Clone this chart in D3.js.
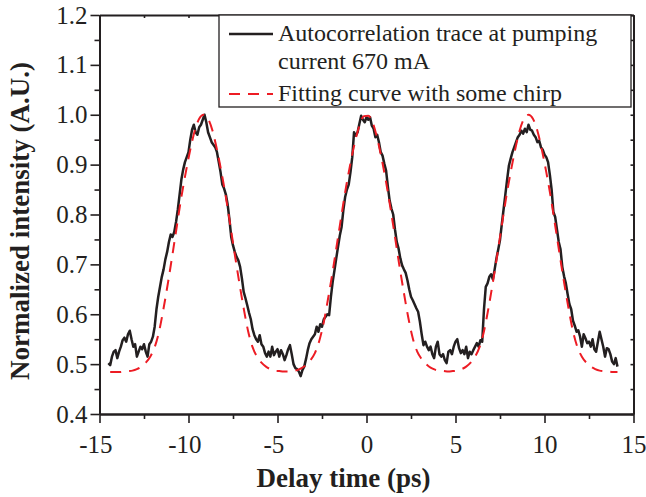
<!DOCTYPE html>
<html><head><meta charset="utf-8">
<script src="https://cdn.jsdelivr.net/npm/d3@7/dist/d3.min.js"></script>
<style>body{margin:0;background:#fff}svg{display:block}</style>
</head><body><svg id="c" width="646" height="497"></svg>
<script>
// ---- data ----
const traceStart = -14.5, traceStep = 0.1;   // ps
const traceValues = [
0.502,0.498,0.515,0.525,0.528,0.512,0.525,0.535,0.548,0.553,
0.545,0.560,0.567,0.550,0.535,0.540,0.515,0.525,0.535,0.530,
0.540,0.525,0.515,0.540,0.545,0.555,0.575,0.610,0.635,0.655,
0.675,0.690,0.710,0.725,0.745,0.760,0.755,0.765,0.785,0.810,
0.840,0.870,0.890,0.905,0.915,0.925,0.950,0.970,0.980,0.965,
0.960,0.975,0.980,0.990,1.000,0.985,0.965,0.955,0.945,0.940,
0.935,0.925,0.905,0.885,0.860,0.852,0.840,0.820,0.790,0.755,
0.738,0.725,0.715,0.708,0.695,0.672,0.645,0.632,0.618,0.603,
0.590,0.570,0.558,0.550,0.545,0.558,0.540,0.535,0.522,0.515,
0.525,0.515,0.535,0.518,0.525,0.530,0.515,0.528,0.520,0.508,
0.518,0.530,0.538,0.520,0.500,0.492,0.490,0.485,0.476,0.488,
0.495,0.510,0.528,0.542,0.550,0.555,0.560,0.575,0.565,0.580,
0.575,0.590,0.595,0.600,0.598,0.635,0.665,0.688,0.712,0.735,
0.758,0.775,0.809,0.835,0.850,0.860,0.885,0.915,0.965,0.958,
0.965,0.982,0.998,0.990,0.985,0.995,0.990,0.995,0.978,0.972,
0.955,0.960,0.945,0.925,0.918,0.902,0.888,0.856,0.828,0.812,
0.800,0.770,0.745,0.732,0.712,0.698,0.690,0.683,0.668,0.650,
0.635,0.628,0.620,0.612,0.605,0.585,0.560,0.538,0.545,0.535,
0.528,0.535,0.520,0.512,0.535,0.545,0.520,0.515,0.520,0.508,
0.502,0.525,0.528,0.520,0.535,0.545,0.550,0.532,0.522,0.528,
0.520,0.535,0.512,0.525,0.520,0.528,0.535,0.542,0.535,0.548,
0.545,0.610,0.655,0.662,0.675,0.680,0.670,0.690,0.712,0.730,
0.749,0.780,0.810,0.840,0.870,0.898,0.912,0.925,0.935,0.945,
0.955,0.960,0.968,0.962,0.972,0.965,0.980,0.970,0.968,0.960,
0.955,0.945,0.948,0.935,0.930,0.920,0.915,0.905,0.880,0.850,
0.805,0.795,0.770,0.745,0.730,0.695,0.676,0.662,0.640,0.620,
0.610,0.587,0.577,0.565,0.568,0.555,0.535,0.560,0.552,0.542,
0.545,0.535,0.550,0.530,0.525,0.545,0.565,0.550,0.535,0.515,
0.532,0.530,0.520,0.505,0.500,0.512,0.495
];
const fitStart = -14.4, fitStep = 0.25;      // ps
const fitValues = [
0.484,0.484,0.484,0.485,0.486,0.487,0.490,0.495,0.503,0.515,
0.534,0.566,0.612,0.664,0.720,0.778,0.835,0.885,0.930,0.968,
0.992,1.000,0.992,0.968,0.930,0.885,0.835,0.778,0.720,0.664,
0.612,0.566,0.534,0.515,0.503,0.495,0.490,0.487,0.486,0.485,
0.485,0.486,0.488,0.492,0.498,0.508,0.522,0.547,0.584,0.633,
0.686,0.743,0.800,0.855,0.903,0.945,0.978,0.997,0.998,0.984,
0.953,0.912,0.865,0.812,0.755,0.697,0.643,0.593,0.552,0.525,
0.510,0.500,0.493,0.489,0.487,0.486,0.485,0.486,0.487,0.490,
0.495,0.503,0.515,0.534,0.566,0.612,0.664,0.720,0.778,0.835,
0.885,0.930,0.968,0.992,1.000,0.992,0.968,0.930,0.885,0.835,
0.778,0.720,0.664,0.612,0.566,0.534,0.515,0.503,0.495,0.490,
0.487,0.486,0.485,0.484,0.484
];
const xTicks = [-15,-10,-5,0,5,10,15];
const xMinorTicks = [-12.5,-7.5,-2.5,2.5,7.5,12.5];
const yTicks = [0.4,0.5,0.6,0.7,0.8,0.9,1.0,1.1,1.2];
const yMinorTicks = [0.45,0.55,0.65,0.75,0.85,0.95,1.05,1.15];
const legendTrace = ["Autocorrelation trace at pumping","current 670 mA"];
const legendFit = ["Fitting curve with some chirp"];
const xTitle = "Delay time (ps)";
const yTitle = "Normalized intensity (A.U.)";

// ---- drawing ----
const ink = "#231f20", red = "#ed1c24";
const serif = "'Liberation Serif','Times New Roman',serif";
const svg = d3.select("#c");
svg.append("rect").attr("width",646).attr("height",497).attr("fill","#fff");

const x = d3.scaleLinear().domain([-15,15]).range([99.5,633.5]);
const y = d3.scaleLinear().domain([0.4,1.2]).range([414,15]);

const trace = traceValues.map((v,i)=>[traceStart+i*traceStep, v]);
const fit = fitValues.map((v,i)=>[fitStart+i*fitStep, v]);

const line = d3.line().x(d=>x(d[0])).y(d=>y(d[1]));
const smooth = d3.line().x(d=>x(d[0])).y(d=>y(d[1])).curve(d3.curveMonotoneX);

svg.append("path").datum(trace).attr("d",line)
  .attr("fill","none").attr("stroke",ink).attr("stroke-width",2.5).attr("stroke-linejoin","round");
svg.append("path").datum(fit).attr("d",smooth)
  .attr("fill","none").attr("stroke",red).attr("stroke-width",2).attr("stroke-dasharray","11,8");

function styleAxis(g){
  g.select(".domain").attr("stroke",ink).attr("stroke-width",2);
  g.selectAll(".tick line").attr("stroke",ink).attr("stroke-width",1.6);
  g.selectAll(".tick text").attr("fill",ink).style("font-family",serif).style("font-size","25px");
}
// left
svg.append("g").attr("transform","translate(99.5,0)")
  .call(d3.axisLeft(y).tickValues(yMinorTicks).tickSize(5).tickSizeOuter(0).tickFormat(""))
  .call(styleAxis);
svg.append("g").attr("transform","translate(99.5,0)")
  .call(d3.axisLeft(y).tickValues(yTicks).tickSize(9).tickSizeOuter(0).tickPadding(3).tickFormat(d3.format(".1f")))
  .call(styleAxis);
// bottom
svg.append("g").attr("transform","translate(0,414)")
  .call(d3.axisBottom(x).tickValues(xMinorTicks).tickSize(5).tickSizeOuter(0).tickFormat(""))
  .call(styleAxis);
svg.append("g").attr("transform","translate(0,414)")
  .call(d3.axisBottom(x).tickValues(xTicks).tickSize(9).tickSizeOuter(0).tickPadding(12).tickFormat(d=>String(d)))
  .call(styleAxis)
  .call(g=>g.selectAll(".tick text").attr("dx",d=>d<0?"-0.1665em":null));
// top
svg.append("g").attr("transform","translate(0,15)")
  .call(d3.axisBottom(x).tickValues(xTicks.concat(xMinorTicks)).tickSize(3).tickSizeOuter(0).tickFormat(""))
  .call(styleAxis);
// right
svg.append("g").attr("transform","translate(633.5,0)")
  .call(d3.axisLeft(y).tickValues(yTicks.concat(yMinorTicks)).tickSize(3).tickSizeOuter(0).tickFormat(""))
  .call(styleAxis);

// legend
const lg = svg.append("g");
lg.append("rect").attr("x",219).attr("y",15).attr("width",412).attr("height",92)
  .attr("fill","#fff").attr("stroke",ink).attr("stroke-width",1.3);
lg.append("line").attr("x1",229).attr("x2",273).attr("y1",34).attr("y2",34)
  .attr("stroke",ink).attr("stroke-width",2.5);
lg.append("line").attr("x1",229).attr("x2",273).attr("y1",94).attr("y2",94)
  .attr("stroke",red).attr("stroke-width",2).attr("stroke-dasharray","11,8");
const lt = lg.append("text").attr("fill",ink).style("font-family",serif).style("font-size","24px");
lt.append("tspan").attr("x",278).attr("y",41).text(legendTrace[0]);
lt.append("tspan").attr("x",278).attr("y",69).text(legendTrace[1]);
lt.append("tspan").attr("x",278).attr("y",101).text(legendFit[0]);

// titles
svg.append("text").attr("x",343.5).attr("y",487).attr("text-anchor","middle")
  .attr("fill",ink).style("font-family",serif).style("font-weight","bold").style("font-size","27px")
  .text(xTitle);
svg.append("text").attr("transform","translate(29,221) rotate(-90)").attr("text-anchor","middle")
  .attr("fill",ink).style("font-family",serif).style("font-weight","bold").style("font-size","27px")
  .text(yTitle);
</script>
</body></html>
